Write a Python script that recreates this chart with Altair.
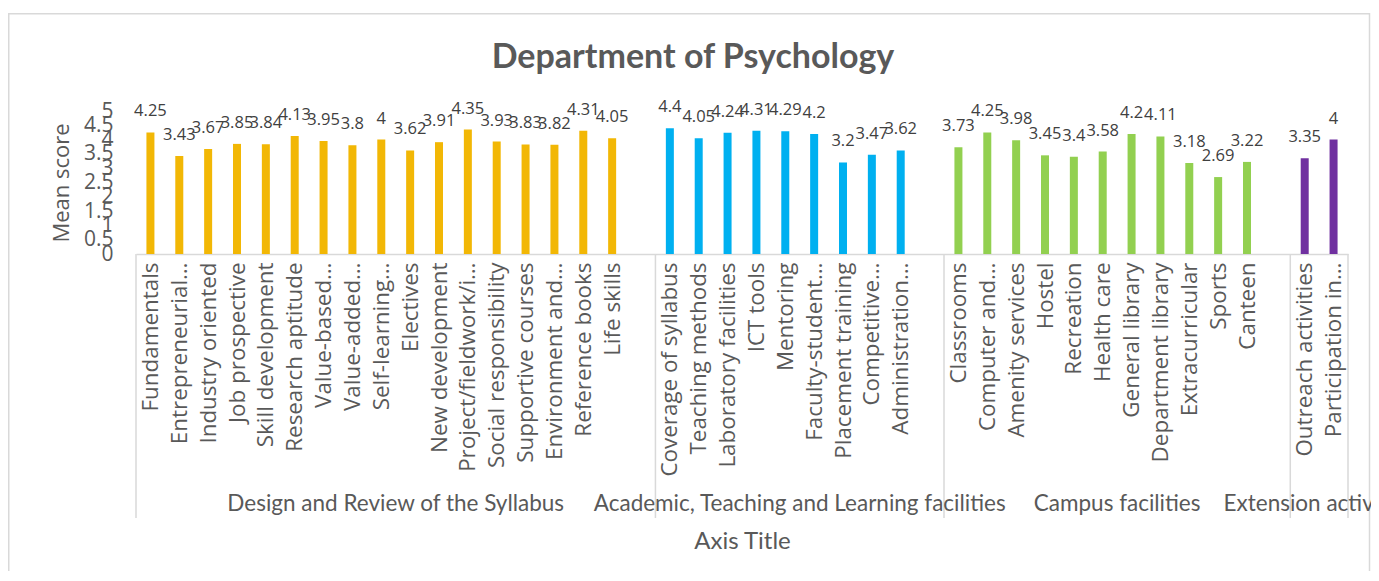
import altair as alt
import pandas as pd

groups = [
    "Design and Review of the Syllabus",
    "Academic, Teaching and Learning facilities",
    "Campus facilities",
    "Extension activities",
]
design_items = ["Fundamentals", "Entrepreneurial…", "Industry oriented", "Job prospective",
                "Skill development", "Research aptitude", "Value-based…", "Value-added…",
                "Self-learning…", "Electives", "New development", "Project/fieldwork/i…",
                "Social responsibility", "Supportive courses", "Environment and…",
                "Reference books", "Life skills"]
design_values = [4.25, 3.43, 3.67, 3.85, 3.84, 4.13, 3.95, 3.8, 4, 3.62, 3.91, 4.35,
                 3.93, 3.83, 3.82, 4.31, 4.05]
academic_items = ["Coverage of syllabus", "Teaching methods", "Laboratory facilities",
                  "ICT tools", "Mentoring", "Faculty-student…", "Placement training",
                  "Competitive…", "Administration…"]
academic_values = [4.4, 4.05, 4.24, 4.31, 4.29, 4.2, 3.2, 3.47, 3.62]
campus_items = ["Classrooms", "Computer and…", "Amenity services", "Hostel", "Recreation",
                "Health care", "General library", "Department library", "Extracurricular",
                "Sports", "Canteen"]
campus_values = [3.73, 4.25, 3.98, 3.45, 3.4, 3.58, 4.2, 4.11, 3.18, 2.69, 3.22]
extension_items = ["Outreach activities", "Participation in…"]
extension_values = [3.35, 4]

title_text = "Department of Psychology"
colors = ["#F2B705", "#00B0F0", "#92D050", "#7030A0"]
y_ticks = [0, 0.5, 1, 1.5, 2, 2.5, 3, 3.5, 4, 4.5, 5]

all_items = [design_items, academic_items, campus_items, extension_items]
all_values = [design_values, academic_values, campus_values, extension_values]

rows, bounds, centers = [], [], []
slot = 0
slot_labels = []
for gi, (g, its, vals) in enumerate(zip(groups, all_items, all_values)):
    start = slot
    for it, v in zip(its, vals):
        rows.append({"slot": slot, "item": it, "value": v, "group": g})
        slot_labels.append(it)
        slot += 1
    if gi < len(groups) - 1:
        slot_labels.append("")
        slot += 1
    bounds.append(start - 0.5)
    centers.append({"c": (start - 0.5 + slot - 0.5) / 2, "group": g})
bounds.append(slot - 0.5)
n_slots = slot

df = pd.DataFrame(rows)
bdf = pd.DataFrame({"b": bounds})
cdf = pd.DataFrame(centers)

label_arr = "[" + ",".join("'" + s + "'" for s in slot_labels) + "]"

PW, PH = 1212, 143
xscale = alt.Scale(domain=[-0.5, n_slots - 0.5], nice=False, zero=False, padding=0)
yscale = alt.Scale(domain=[0, 5], nice=False, padding=0)

xaxis = alt.Axis(values=list(df["slot"]), labelExpr=label_arr + "[datum.value]",
                 labelAngle=-90, labelAlign="right", labelBaseline="middle",
                 labelFont="Open Sans", labelFontSize=22.4, labelColor="#595959",
                 labelPadding=8, labelOverlap=False, labelFlush=False, labelLimit=500,
                 ticks=False, tickSize=0, grid=False,
                 domainColor="#d9d9d9", domainWidth=1.5,
                 title="Axis Title", titleFont="Lato", titleFontSize=24,
                 titleFontWeight="normal", titleColor="#595959",
                 titleY=287, titleBaseline="middle")
yaxis = alt.Axis(values=y_ticks, format="~g", labelFont="Open Sans",
                 labelFontSize=21, labelColor="#595959", labelPadding=23,
                 ticks=False, tickSize=0, domain=False, grid=False,
                 labelOverlap=False, labelFlush=False,
                 title="Mean score", titleFont="Open Sans", titleFontSize=22,
                 titleFontWeight="normal", titleColor="#595959",
                 titleX=-75, titleBaseline="middle")

bars = alt.Chart(df).mark_bar(size=8).encode(
    x=alt.X("slot:Q", scale=xscale, axis=xaxis),
    y=alt.Y("value:Q", scale=yscale, axis=yaxis),
    color=alt.Color("group:N", scale=alt.Scale(domain=groups, range=colors), legend=None),
)

labels = alt.Chart(df).mark_text(font="Open Sans", fontSize=16.5, color="#404040",
                                 baseline="middle", dy=-21).encode(
    x=alt.X("slot:Q", scale=xscale, axis=xaxis),
    y=alt.Y("value:Q", scale=yscale, axis=yaxis),
    text=alt.Text("value:Q", format="~g"),
)

seps = alt.Chart(bdf).mark_rule(color="#d9d9d9", strokeWidth=1.5).encode(
    x=alt.X("b:Q", scale=xscale, axis=xaxis),
    y=alt.value(PH), y2=alt.value(PH + 264),
)

glabels = alt.Chart(cdf).mark_text(font="Lato", fontSize=22.5, color="#595959",
                                   baseline="middle", align="center").encode(
    x=alt.X("c:Q", scale=xscale, axis=xaxis),
    y=alt.value(393),
    text="group:N",
)

title_mark = alt.Chart(alt.Data(values=[{"t": title_text}])).mark_text(
    font="Lato", fontSize=34, fontWeight="bold", color="#595959",
    baseline="middle", align="center").encode(
    x=alt.value(557), y=alt.value(-53), text="t:N",
)

frame = alt.Chart(alt.Data(values=[{"k": 1}])).mark_rect(
    fill="white", fillOpacity=0, stroke="#d9d9d9", strokeWidth=1.5).encode(
    x=alt.value(-127.25), x2=alt.value(1233.5), y=alt.value(-97.25), y2=alt.value(700),
)

chart = alt.layer(frame, seps, bars, labels, glabels, title_mark).properties(
    width=PW, height=PH,
    autosize=alt.AutoSizeParams(type="none"),
    padding={"left": 128, "top": 103, "right": 23, "bottom": 317},
).configure_view(strokeWidth=0)

chart.save("out.html", embed_options={"renderer": "svg", "actions": False})
